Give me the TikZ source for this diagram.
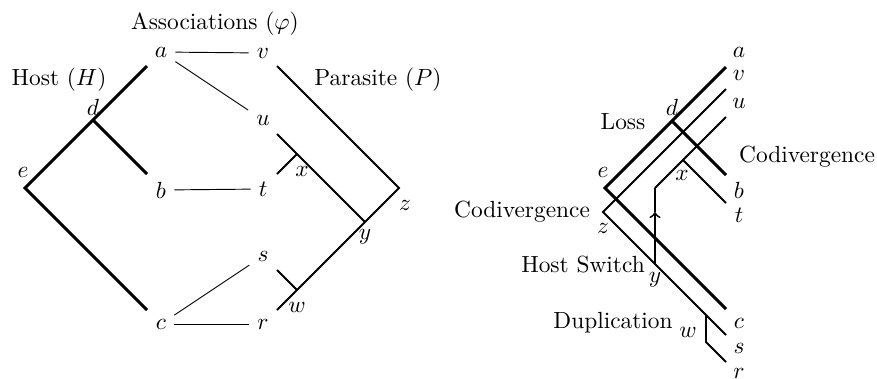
\documentclass[tikz,border=0pt]{standalone}
\begin{document}
\begin{tikzpicture}[x=0.428pt,y=-0.428pt,
  host/.style={line width=1.25pt},
  para/.style={line width=0.8pt},
  assoc/.style={line width=0.4pt},
  lbl/.style={inner sep=0.333em}]
\useasboundingbox (0,0) rectangle (877,378);

% ---------- left: host tree, parasite tree and associations ----------
\node (hosttitle) at (59,80) {Host ($H$)};
\node (assoctitle) at (215,24) {Associations ($\varphi$)};
\node (paratitle) at (378,80) {Parasite ($P$)};

\node[lbl] (a) at (161,52) {$a$};
\node[lbl] (b) at (161,190) {$b$};
\node[lbl] (c) at (161,324) {$c$};
\node[lbl] (v) at (263,53) {$v$};
\node[lbl] (u) at (263,120) {$u$};
\node[lbl] (t) at (263,189) {$t$};
\node[lbl] (s) at (263,256) {$s$};
\node[lbl] (r) at (263,324) {$r$};

\coordinate (Ha) at (147,66);
\coordinate (Hd) at (93,120);
\coordinate (He) at (25,188);
\coordinate (Hb) at (147,174);
\coordinate (Hc) at (147,310);
\draw[host] (Ha) -- (Hd) -- (He) -- (Hc);
\draw[host] (Hd) -- (Hb);
\node (dl) at (93,107) {$d$};
\node (el) at (23,172) {$e$};

\coordinate (Pv) at (277,66);
\coordinate (Pz) at (399,188);
\coordinate (Pu) at (277,134);
\coordinate (Px) at (297,154);
\coordinate (Py) at (365,222);
\coordinate (Pt) at (277,174);
\coordinate (Pw) at (297,290);
\coordinate (Ps) at (277,270);
\coordinate (Pr) at (277,310);
\draw[para] (Pv) -- (Pz) -- (Py) -- (Pw) -- (Pr);
\draw[para] (Pu) -- (Px) -- (Py);
\draw[para] (Px) -- (Pt);
\draw[para] (Ps) -- (Pw);
\node (xl) at (302,171) {$x$};
\node (yl) at (365,237) {$y$};
\node (zl) at (405,205) {$z$};
\node (wl) at (297,307) {$w$};

\draw[assoc] (a) -- (v);
\draw[assoc] (a) -- (u);
\draw[assoc] (b) -- (t);
\draw[assoc] (c) -- (s);
\draw[assoc] (c) -- (r);

% ---------- right: parasite tree reconciled with the host tree ----------
\coordinate (Ga) at (726,67);
\coordinate (Gd) at (672,121);
\coordinate (Ge) at (605,188);
\coordinate (Gb) at (726,175);
\coordinate (Gc) at (726,309);
\draw[host] (Ga) -- (Gd) -- (Ge) -- (Gc);
\draw[host] (Gd) -- (Gb);

\coordinate (Qv) at (726,89);
\coordinate (Qz) at (603,212);
\coordinate (Qy) at (655,264);
\coordinate (Qw) at (706,315);
\coordinate (Qs) at (726,335);
\coordinate (Qwb) at (706,342);
\coordinate (Qr) at (726,362);
\coordinate (Qu) at (726,117);
\coordinate (Qx) at (683,160);
\coordinate (Qt) at (726,203);
\coordinate (Qbend) at (655,188);
\coordinate (Qarr) at (655,212);
\draw[para] (Qv) -- (Qz) -- (Qy) -- (Qw) -- (Qs);
\draw[para] (Qw) -- (Qwb) -- (Qr);
\draw[para] (Qu) -- (Qx) -- (Qbend);
\draw[para] (Qx) -- (Qt);
\draw[para,->] (Qy) -- (Qarr);
\draw[para] (Qarr) -- (Qbend);

\node (ra) at (739,52) {$a$};
\node (rv) at (739,75) {$v$};
\node (ru) at (739,103) {$u$};
\node (rb) at (739,190) {$b$};
\node (rt) at (739,215) {$t$};
\node (rc) at (739,323) {$c$};
\node (rs) at (739,348) {$s$};
\node (rr) at (739,373) {$r$};
\node (rd) at (672,107) {$d$};
\node (re) at (603,172) {$e$};
\node (rx) at (682,175) {$x$};
\node (rz) at (603,228) {$z$};
\node (ry) at (655,280) {$y$};
\node (rw) at (688,332) {$w$};

\node (loss) at (623,122) {Loss};
\node (codivR) at (807,157) {Codivergence};
\node (codivL) at (522,212) {Codivergence};
\node (switch) at (583,265) {Host Switch};
\node (dup) at (613,323) {Duplication};
\end{tikzpicture}
\end{document}
